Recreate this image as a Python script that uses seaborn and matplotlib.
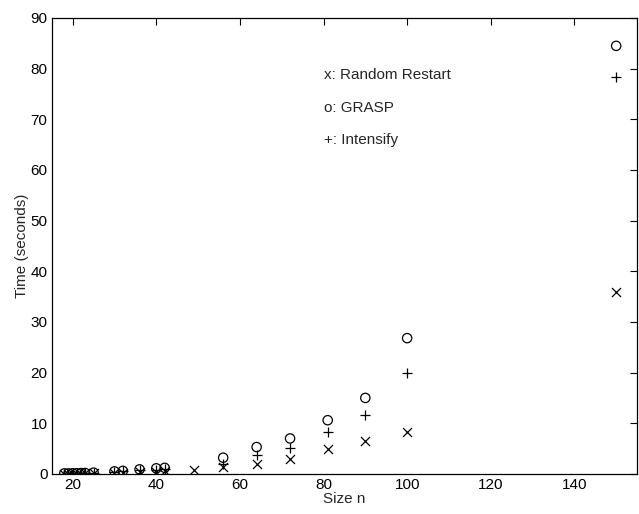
import numpy as np
import matplotlib
matplotlib.use('Agg')
import matplotlib.pyplot as plt
import seaborn as sns
import pandas as pd

# problem sizes and run times (seconds)
n_rr = [18, 19, 20, 21, 22, 23, 25, 30, 32, 36, 40, 42, 49, 56, 64, 72, 81, 90, 100, 150]
t_rr = [0.05, 0.05, 0.06, 0.07, 0.08, 0.09, 0.12, 0.2, 0.25, 0.35, 0.45, 0.55, 0.8,
        1.3, 1.9, 3.0, 5.0, 6.5, 8.3, 36.0]

n_grasp = [18, 19, 20, 21, 22, 23, 25, 30, 32, 36, 40, 42, 56, 64, 72, 81, 90, 100, 150]
t_grasp = [0.1, 0.1, 0.12, 0.14, 0.16, 0.18, 0.25, 0.5, 0.6, 0.9, 1.1, 1.2,
           3.2, 5.3, 7.0, 10.6, 15.0, 26.8, 84.5]

n_int = [18, 19, 20, 21, 22, 23, 25, 30, 32, 36, 40, 42, 56, 64, 72, 81, 90, 100, 150]
t_int = [0.08, 0.08, 0.09, 0.1, 0.12, 0.14, 0.2, 0.4, 0.5, 0.7, 0.85, 0.95,
         2.0, 3.7, 5.2, 8.3, 11.6, 20.0, 78.3]

legend_lines = ['x: Random Restart', 'o: GRASP', '+: Intensify']

sns.set_style('white')
plt.rcParams['font.family'] = ['Liberation Sans', 'DejaVu Sans']

fig = plt.figure(figsize=(6.39, 5.14), dpi=100)
ax = fig.add_axes([0.081, 0.078, 0.916, 0.887])

df_rr = pd.DataFrame({'n': n_rr, 't': t_rr})
df_gr = pd.DataFrame({'n': n_grasp, 't': t_grasp})
df_in = pd.DataFrame({'n': n_int, 't': t_int})

sns.scatterplot(data=df_rr, x='n', y='t', marker='x', color='k', s=42,
                linewidth=0.9, ax=ax)
sns.scatterplot(data=df_gr, x='n', y='t', marker='o', facecolors='none',
                edgecolor='k', s=45, linewidth=0.9, ax=ax)
sns.scatterplot(data=df_in, x='n', y='t', marker='+', color='k', s=42,
                linewidth=0.9, ax=ax)

ax.set_xlim(15, 155)
ax.set_ylim(0, 90)
ax.set_xticks(np.arange(20, 141, 20))
ax.set_yticks(np.arange(0, 91, 10))
ax.set_xlabel('Size n', fontsize=11, labelpad=0)
ax.set_ylabel('Time (seconds)', fontsize=11, labelpad=1)
ax.tick_params(direction='in', length=5, width=0.8, labelsize=11,
               top=True, right=True, pad=3, colors='k')
for sp in ax.spines.values():
    sp.set_visible(True)
    sp.set_color('k')
    sp.set_linewidth(0.9)

for i, s in enumerate(legend_lines):
    ax.text(80, 78.7 - 6.4 * i, s, fontsize=11, va='center', ha='left')

fig.savefig('out.png', dpi=100)
